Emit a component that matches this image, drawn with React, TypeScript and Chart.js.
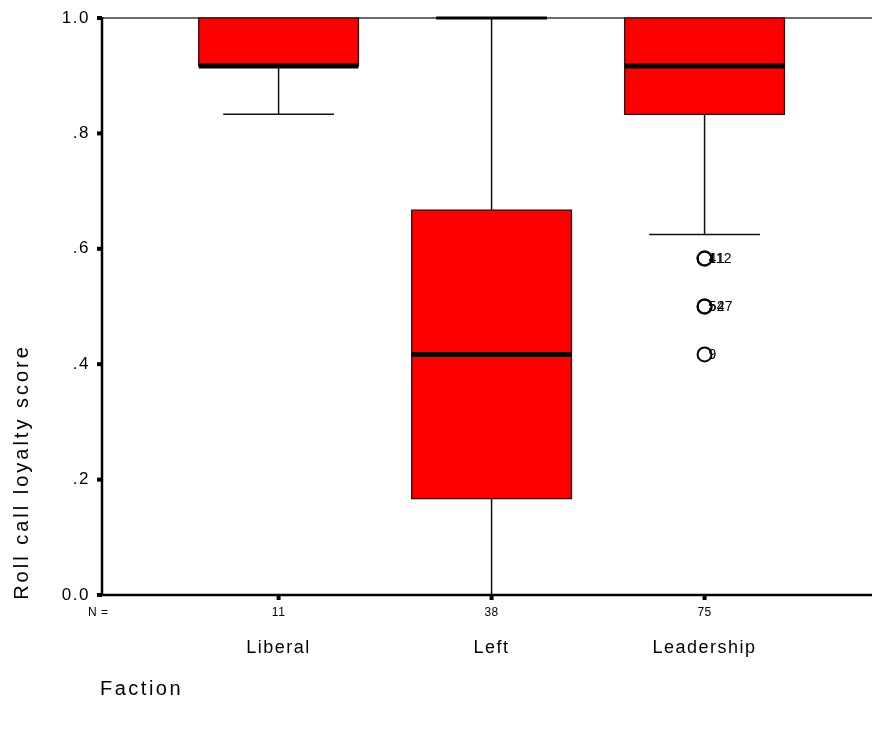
import React, { useEffect, useRef } from "react";
import { Chart, registerables } from "chart.js";

Chart.register(...registerables);

const categories = ["Liberal", "Left", "Leadership"];
const counts = [11, 38, 75];
const whiskerLow = [0.833, 0.0, 0.625];
const quartile1 = [0.917, 0.167, 0.833];
const medians = [0.917, 0.417, 0.917];
const quartile3 = [1.0, 0.667, 1.0];
const whiskerHigh = [1.0, 1.0, 1.0];
const outlierCategory = [3, 3, 3, 3, 3];
const outlierValues = [0.583, 0.583, 0.5, 0.5, 0.417];
const outlierLabels = ["41", "112", "54", "527", "9"];
const yTicks = [0, 0.2, 0.4, 0.6, 0.8, 1.0];
const yTickLabels = ["0.0", ".2", ".4", ".6", ".8", "1.0"];

const FONT = "'Liberation Sans', Arial, sans-serif";
const BOX_HALF = 0.375;
const CAP_HALF = 0.26;

function setFont(ctx: any, size: number, spacing: number) {
  ctx.font = `${size}px ${FONT}`;
  if ("letterSpacing" in ctx) ctx.letterSpacing = `${spacing}px`;
}

const boxPlugin = {
  id: "boxPlugin",
  beforeDatasetsDraw(chart: any) {
    const { ctx, chartArea } = chart;
    const xs = chart.scales.x;
    const ys = chart.scales.y;
    ctx.save();
    ctx.strokeStyle = "#6b6b6b";
    ctx.lineWidth = 2;
    ctx.beginPath();
    ctx.moveTo(chartArea.left, ys.getPixelForValue(1));
    ctx.lineTo(chartArea.right, ys.getPixelForValue(1));
    ctx.stroke();
    categories.forEach((_, i) => {
      const c = i + 1;
      const xl = xs.getPixelForValue(c - BOX_HALF);
      const xr = xs.getPixelForValue(c + BOX_HALF);
      const xc = xs.getPixelForValue(c);
      const cl = xs.getPixelForValue(c - CAP_HALF);
      const cr = xs.getPixelForValue(c + CAP_HALF);
      const yq1 = ys.getPixelForValue(quartile1[i]);
      const yq3 = ys.getPixelForValue(quartile3[i]);
      const ylo = ys.getPixelForValue(whiskerLow[i]);
      const yhi = ys.getPixelForValue(whiskerHigh[i]);
      const ymed = ys.getPixelForValue(medians[i]);
      ctx.strokeStyle = "#111";
      ctx.lineWidth = 1.5;
      ctx.beginPath();
      ctx.moveTo(xc, yq1);
      ctx.lineTo(xc, ylo);
      ctx.moveTo(cl, ylo);
      ctx.lineTo(cr, ylo);
      ctx.moveTo(xc, yq3);
      ctx.lineTo(xc, yhi);
      ctx.stroke();
      if (whiskerHigh[i] > quartile3[i]) {
        ctx.lineWidth = 3;
        ctx.strokeStyle = "#000";
        ctx.beginPath();
        ctx.moveTo(cl, yhi);
        ctx.lineTo(cr, yhi);
        ctx.stroke();
      }
      ctx.fillStyle = "#ff0000";
      ctx.fillRect(xl, yq3, xr - xl, yq1 - yq3);
      ctx.strokeStyle = "#2a1010";
      ctx.lineWidth = 1.3;
      ctx.strokeRect(xl, yq3, xr - xl, yq1 - yq3);
      ctx.strokeStyle = "#000";
      ctx.lineWidth = 5;
      ctx.beginPath();
      ctx.moveTo(xl, ymed);
      ctx.lineTo(xr, ymed);
      ctx.stroke();
    });
    ctx.restore();
  },
  afterDraw(chart: any) {
    const { ctx, chartArea } = chart;
    const xs = chart.scales.x;
    const ys = chart.scales.y;
    ctx.save();
    ctx.strokeStyle = "#000";
    ctx.lineWidth = 2.5;
    ctx.beginPath();
    ctx.moveTo(chartArea.left, ys.getPixelForValue(1) - 1);
    ctx.lineTo(chartArea.left, ys.getPixelForValue(0));
    ctx.lineTo(chartArea.right, ys.getPixelForValue(0));
    ctx.stroke();
    ctx.fillStyle = "#000";
    setFont(ctx, 17, 1.5);
    ctx.textAlign = "right";
    ctx.textBaseline = "middle";
    yTicks.forEach((v, i) => {
      const y = ys.getPixelForValue(v);
      ctx.fillRect(chartArea.left - 5, y - 2, 5, 4);
      ctx.fillText(yTickLabels[i], chartArea.left - 12, y);
    });
    const y0 = ys.getPixelForValue(0);
    ctx.textAlign = "center";
    categories.forEach((name, i) => {
      const x = xs.getPixelForValue(i + 1);
      ctx.fillRect(x - 2, y0, 4, 5);
      setFont(ctx, 12, 0.5);
      ctx.fillText(String(counts[i]), x, y0 + 18);
      setFont(ctx, 18, 1.5);
      ctx.fillText(name, x, y0 + 53);
    });
    ctx.fillRect(chartArea.left - 4, y0 - 2, 4, 4);
    setFont(ctx, 12, 0.5);
    ctx.textAlign = "left";
    ctx.fillText("N =", 88, y0 + 18);
    setFont(ctx, 14, 0.3);
    outlierValues.forEach((v, i) => {
      const x = xs.getPixelForValue(outlierCategory[i]);
      const y = ys.getPixelForValue(v);
      ctx.fillText(outlierLabels[i], x + 4, y + 1);
    });
    setFont(ctx, 20, 2.5);
    ctx.fillText("Faction", 100, 689);
    setFont(ctx, 20, 3);
    ctx.translate(22, 472);
    ctx.rotate(-Math.PI / 2);
    ctx.textAlign = "center";
    ctx.fillText("Roll call loyalty score", 0, 0);
    ctx.restore();
  },
};

export default function App() {
  const ref = useRef<HTMLCanvasElement>(null);
  useEffect(() => {
    document.body.style.margin = "0";
    const chart = new Chart(ref.current as HTMLCanvasElement, {
      type: "scatter",
      data: {
        datasets: [
          {
            label: "Outliers",
            data: outlierValues.map((v, i) => ({ x: outlierCategory[i], y: v })),
            pointStyle: "circle",
            pointRadius: 7,
            pointBorderWidth: 2,
            pointBackgroundColor: "rgba(255,255,255,0)",
            pointBorderColor: "#000",
          },
        ],
      },
      options: {
        animation: false,
        responsive: false,
        maintainAspectRatio: false,
        layout: { autoPadding: false, padding: { left: 102, top: 18, right: 0, bottom: 136 } },
        plugins: { legend: { display: false }, tooltip: { enabled: false } },
        scales: {
          x: { type: "linear", min: 0.171, max: 3.786, display: false },
          y: { type: "linear", min: 0, max: 1, display: false },
        },
      },
      plugins: [boxPlugin],
    });
    return () => chart.destroy();
  }, []);
  return (
    <div style={{ width: 872, height: 731, background: "#fff" }}>
      <canvas ref={ref} width={872} height={731} />
    </div>
  );
}
